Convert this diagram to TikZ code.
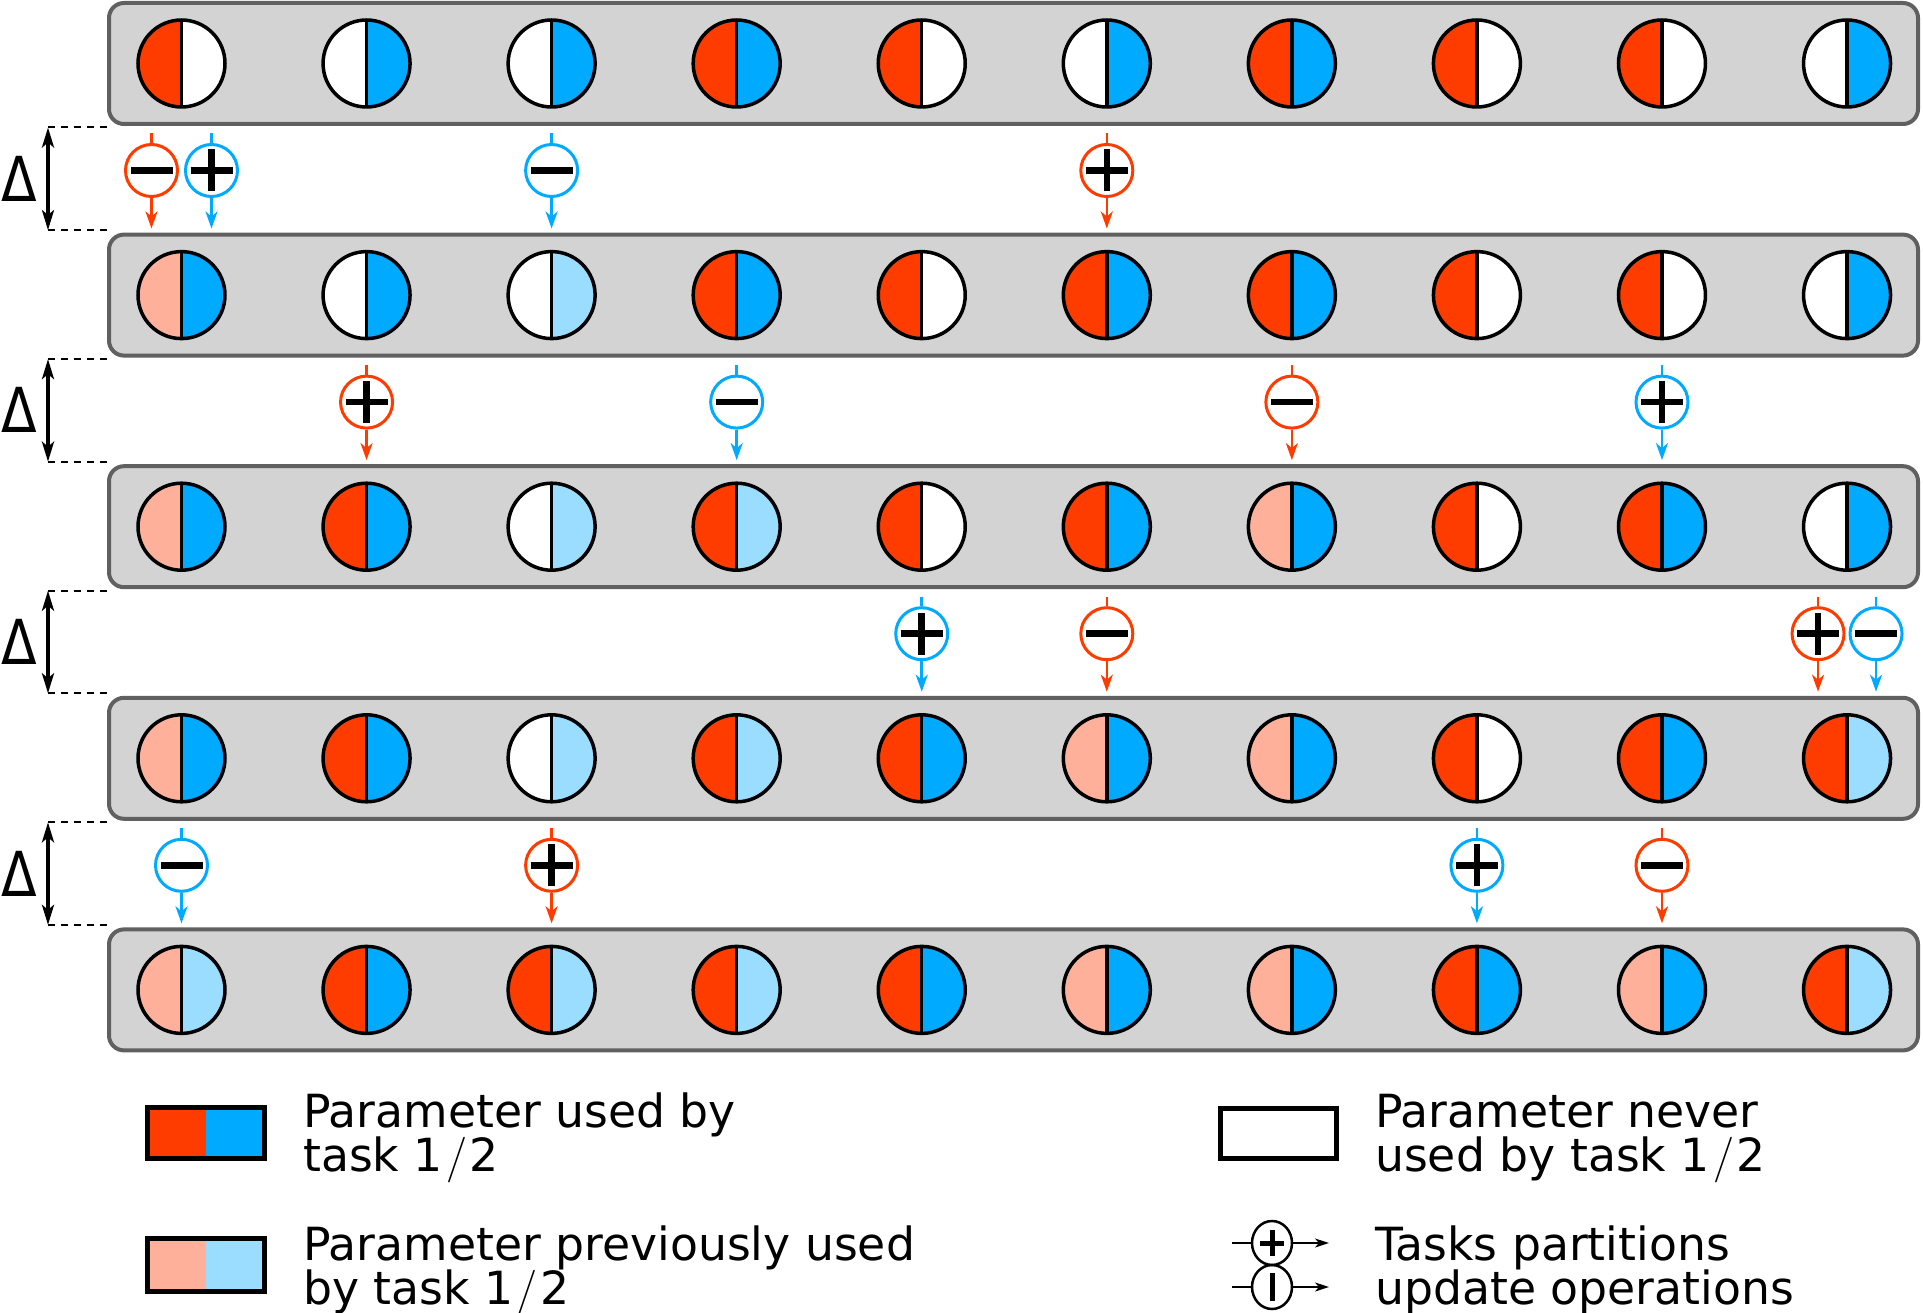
\documentclass[tikz,border=0pt]{standalone}
\usepackage{fontspec}
\newfontfamily\dvs{DejaVu Sans}
\usetikzlibrary{arrows.meta,calc,shapes.geometric}
\definecolor{pR}{HTML}{FF3C00}
\definecolor{pB}{HTML}{00AAFF}
\definecolor{pLR}{HTML}{FFB09B}
\definecolor{pLB}{HTML}{9BDDFF}
\definecolor{pW}{HTML}{FFFFFF}
\definecolor{boxfill}{HTML}{D3D3D3}
\definecolor{boxline}{HTML}{606060}
\newcommand\paramrow[2]{%
  \pgfmathsetmacro\ry{63.5+231.6*(#1-1)}
  \node[rowbox] (row#1) at (1013.5,\ry) {};
  \foreach \a/\b [count=\c] in {#2} {
    \pgfmathsetmacro\cx{181.5+185.06*(\c-1)}
    \node[param={\a}{\b}] (p#1-\c) at (\cx,\ry) {};
  }}
\newcommand\slashx{\kern3pt{\normalfont/}\kern3pt}
\begin{document}
\begin{tikzpicture}[x=1pt,y=-1pt,
  rowbox/.style={draw=boxline, fill=boxfill, line width=4pt, rounded corners=15pt,
    minimum width=1809pt, minimum height=121pt, inner sep=0pt},
  param/.style 2 args={circle, draw=black, line width=3.5pt, minimum size=87pt, inner sep=0pt,
    path picture={
      \fill[fill=#1] (path picture bounding box.south west) rectangle (path picture bounding box.north);
      \fill[fill=#2] (path picture bounding box.south) rectangle (path picture bounding box.north east);
      \draw[line width=3.5pt] (path picture bounding box.south) -- (path picture bounding box.north);}},
  legbox/.style 2 args={rectangle, draw=black, line width=5pt, inner sep=0pt,
    path picture={
      \fill[fill=#1] (path picture bounding box.south west) rectangle (path picture bounding box.north);
      \fill[fill=#2] (path picture bounding box.south) rectangle (path picture bounding box.north east);}},
  op/.style={circle, draw=#1, fill=white, line width=3pt, minimum size=52pt, inner sep=0pt},
  opline/.style={draw=#1, line width=2.5pt},
  bar/.style={draw=black, line width=6.5pt},
  dashln/.style={draw=black, line width=2pt, dash pattern=on 7pt off 6pt},
  dimarrow/.style={draw=black, line width=3.5pt, {Stealth[length=20pt,width=12pt,inset=5pt]}-{Stealth[length=20pt,width=12pt,inset=5pt]}},
  deltalabel/.style={inner sep=0pt, font=\dvs\fontsize{62}{62}\selectfont},
  legtext/.style={inner sep=0pt, anchor=base west, font=\dvs\fontsize{45.7}{54}\selectfont},
  legop/.style={ellipse, draw=black, line width=2.5pt, minimum width=40pt, minimum height=44pt, inner sep=0pt},
  legline/.style={draw=black, line width=2pt},
  legbar/.style={draw=black, line width=5pt}
]
\useasboundingbox (0,0) rectangle (1923,1313);

% rows
\paramrow{1}{pR/pW,pW/pB,pW/pB,pR/pB,pR/pW,pW/pB,pR/pB,pR/pW,pR/pW,pW/pB}
\paramrow{2}{pLR/pB,pW/pB,pW/pLB,pR/pB,pR/pW,pR/pB,pR/pB,pR/pW,pR/pW,pW/pB}
\paramrow{3}{pLR/pB,pR/pB,pW/pLB,pR/pLB,pR/pW,pR/pB,pLR/pB,pR/pW,pR/pB,pW/pB}
\paramrow{4}{pLR/pB,pR/pB,pW/pLB,pR/pLB,pR/pB,pLR/pB,pLR/pB,pR/pW,pR/pB,pR/pLB}
\paramrow{5}{pLR/pLB,pR/pB,pR/pLB,pR/pLB,pR/pB,pLR/pB,pLR/pB,pR/pB,pLR/pB,pR/pLB}

% gaps: dimension marks
\foreach \g in {1,...,4} {
  \pgfmathsetmacro\ya{63.5+231.6*(\g-1)+64}
  \pgfmathsetmacro\yb{63.5+231.6*\g-65}
  \pgfmathsetmacro\ym{(\ya+\yb)/2}
  \pgfmathtruncatemacro\gn{\g+1}
  \coordinate (da\g) at (48,\ya);
  \coordinate (db\g) at (48,\yb);
  \draw[dashln] (da\g) -- (da\g -| row\g.west);
  \draw[dashln] (db\g) -- (db\g -| row\gn.west);
  \draw[dimarrow] (da\g) -- (db\g);
  \node[deltalabel] (delta\g) at (19,\ym) {\scalebox{0.84}[1]{Δ}};
}

% update operations: gap/col/offset/colour/sign(1=plus,0=minus)
\foreach \g/\c/\dx/\col/\s [count=\k] in {
  1/1/-30/pR/0, 1/1/30/pB/1, 1/3/0/pB/0, 1/6/0/pR/1,
  2/2/0/pR/1, 2/4/0/pB/0, 2/7/0/pR/0, 2/9/0/pB/1,
  3/5/0/pB/1, 3/6/0/pR/0, 3/10/-29/pR/1, 3/10/29/pB/0,
  4/1/0/pB/0, 4/3/0/pR/1, 4/8/0/pB/1, 4/9/0/pR/0} {
  \pgfmathsetmacro\ox{181.5+185.06*(\c-1)+\dx}
  \pgfmathsetmacro\oy{63.5+231.6*(\g-1)+107}
  \node[op=\col] (o\k) at (\ox,\oy) {};
  \coordinate (oi\k) at (\ox,\oy-37);
  \coordinate (oo\k) at (\ox,\oy+58);
  \draw[opline=\col] (oi\k) -- (o\k.north);
  \draw[opline=\col, -{Stealth[length=17pt,width=12pt,inset=5pt]}] (o\k.south) -- (oo\k);
  \draw[bar] ([xshift=-21pt]o\k.center) -- ([xshift=21pt]o\k.center);
  \ifnum\s=1
    \draw[bar] ([yshift=-21pt]o\k.center) -- ([yshift=21pt]o\k.center);
  \fi
}

% legend
\node[legbox={pR}{pB}, minimum width=117pt, minimum height=51pt] (lb1) at (206,1133) {};
\node[legbox={pLR}{pLB}, minimum width=117pt, minimum height=53pt] (lb2) at (206,1265) {};
\node[legbox={pW}{pW}, minimum width=116pt, minimum height=50pt] (lb3) at (1278.5,1133.5) {};

\node[legtext] (t1a) at (303,1127) {Parameter used by};
\node[legtext] (t1b) at (303,1171) {task 1\slashx 2};
\node[legtext] (t2a) at (303,1260) {Parameter previously used};
\node[legtext] (t2b) at (303,1304) {by task 1\slashx 2};
\node[legtext] (t3a) at (1375,1127) {Parameter never};
\node[legtext] (t3b) at (1375,1171) {used by task 1\slashx 2};
\node[legtext] (t4a) at (1375,1260) {Tasks partitions};
\node[legtext] (t4b) at (1375,1304) {update operations};

\node[legop] (lp) at (1272,1243) {};
\coordinate (lpi) at (1232,1243);
\coordinate (lpo) at (1329,1243);
\draw[legline] (lpi) -- (lp.west);
\draw[legline, -{Stealth[length=14pt,width=9pt,inset=4pt]}] (lp.east) -- (lpo);
\draw[legbar] ([xshift=-12pt]lp.center) -- ([xshift=12pt]lp.center);
\draw[legbar] ([yshift=-13pt]lp.center) -- ([yshift=13pt]lp.center);

\node[legop] (lm) at (1272,1287) {};
\coordinate (lmi) at (1232,1287);
\coordinate (lmo) at (1329,1287);
\draw[legline] (lmi) -- (lm.west);
\draw[legline, -{Stealth[length=14pt,width=9pt,inset=4pt]}] (lm.east) -- (lmo);
\draw[legbar] ([yshift=-14pt]lm.center) -- ([yshift=14pt]lm.center);
\end{tikzpicture}
\end{document}
